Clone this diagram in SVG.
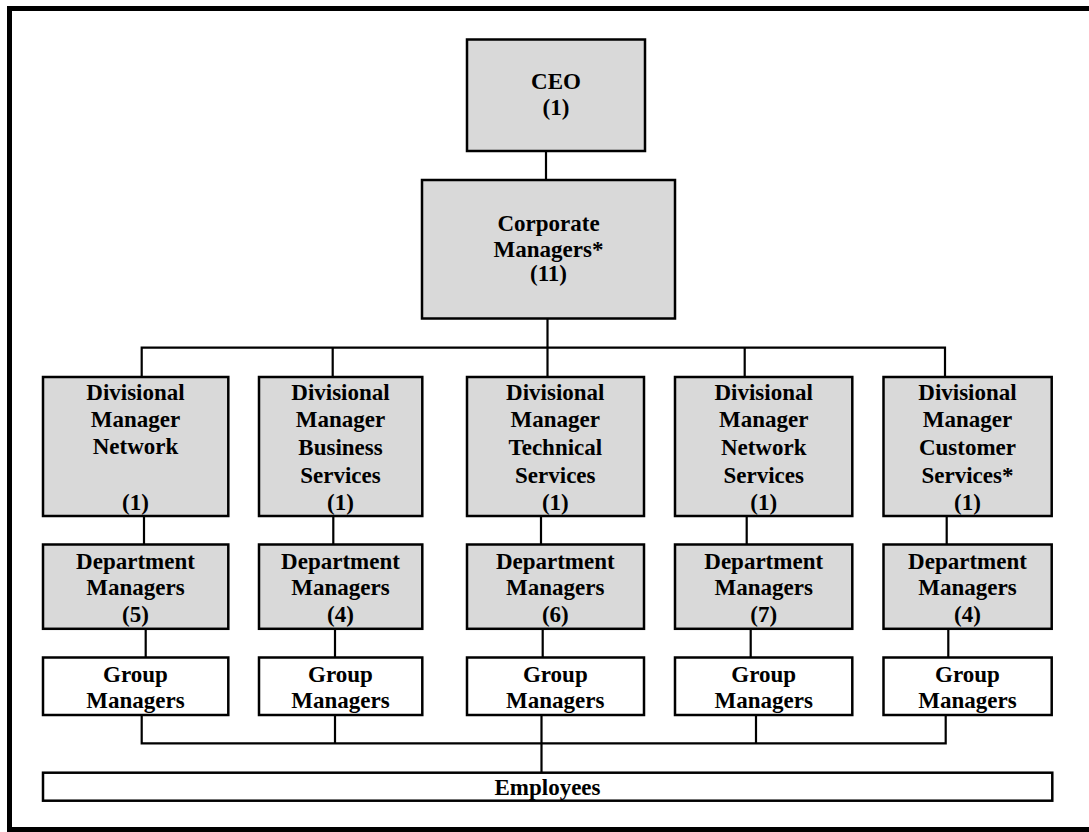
<svg xmlns="http://www.w3.org/2000/svg" width="1089" height="832" viewBox="0 0 1089 832">
<style>
.g{fill:#d9d9d9;stroke:#000;stroke-width:2.5}
.w{fill:#fff;stroke:#000;stroke-width:2.5}
.c{fill:none;stroke:#000;stroke-width:2.2}
text{font-family:"Liberation Serif","Times New Roman",serif;font-weight:bold;font-size:23px;fill:#000;text-anchor:middle}
</style>
<rect x="0" y="0" width="1089" height="832" fill="#fff"/>
<rect x="9.5" y="8.5" width="1090" height="821" fill="none" stroke="#000" stroke-width="5"/>
<g id="connectors" class="c">
<path d="M546 151V180"/>
<path d="M547.5 318V377"/>
<path d="M141.7 377V347.7H945V377"/>
<path d="M332.7 347.7V377M744.7 347.7V377"/>
<path d="M144 516V544M333.3 516V544M541 516V544M746.7 516V544M946.7 516V544"/>
<path d="M145.7 629V657M335 629V657M542.7 629V657M750.7 629V657M948.3 629V657"/>
<path d="M141.7 715V743.3H945.7V715"/>
<path d="M335 715V743.3M756 715V743.3M541.5 715V772.7"/>
</g>
<g id="ceo"><rect class="g" x="467" y="39.5" width="178" height="111.5"/><text x="556" y="89">CEO</text><text x="556" y="115">(1)</text></g>
<g id="corporate"><rect class="g" x="422" y="180" width="253" height="138.5"/><text x="548.5" y="231">Corporate</text><text x="548.5" y="256.7">Managers*</text><text x="548.5" y="281">(11)</text></g>
<g id="div1"><rect class="g" x="43" y="377" width="185.3" height="139"/><text x="135.5" y="400">Divisional</text><text x="135.5" y="427">Manager</text><text x="135.5" y="454">Network</text><text x="135.5" y="510">(1)</text></g>
<g id="div2"><rect class="g" x="259" y="377" width="163.3" height="139"/><text x="340.5" y="399.5">Divisional</text><text x="340.5" y="427.3">Manager</text><text x="340.5" y="455">Business</text><text x="340.5" y="482.7">Services</text><text x="340.5" y="510">(1)</text></g>
<g id="div3"><rect class="g" x="467" y="377" width="177" height="139"/><text x="555.3" y="399.5">Divisional</text><text x="555.3" y="427.3">Manager</text><text x="555.3" y="455">Technical</text><text x="555.3" y="482.7">Services</text><text x="555.3" y="510">(1)</text></g>
<g id="div4"><rect class="g" x="675" y="377" width="177.3" height="139"/><text x="763.7" y="399.5">Divisional</text><text x="763.7" y="427.3">Manager</text><text x="763.7" y="455">Network</text><text x="763.7" y="482.7">Services</text><text x="763.7" y="510">(1)</text></g>
<g id="div5"><rect class="g" x="883.5" y="377" width="168.2" height="139"/><text x="967.5" y="399.5">Divisional</text><text x="967.5" y="427.3">Manager</text><text x="967.5" y="455">Customer</text><text x="967.5" y="482.7">Services*</text><text x="967.5" y="510">(1)</text></g>
<g id="dept1"><rect class="g" x="43" y="544.5" width="185.3" height="84.3"/><text x="135.5" y="568.5">Department</text><text x="135.5" y="595">Managers</text><text x="135.5" y="621.7">(5)</text></g>
<g id="dept2"><rect class="g" x="259" y="544.5" width="163.3" height="84.3"/><text x="340.5" y="568.5">Department</text><text x="340.5" y="595">Managers</text><text x="340.5" y="621.7">(4)</text></g>
<g id="dept3"><rect class="g" x="467" y="544.5" width="177" height="84.3"/><text x="555.3" y="568.5">Department</text><text x="555.3" y="595">Managers</text><text x="555.3" y="621.7">(6)</text></g>
<g id="dept4"><rect class="g" x="675" y="544.5" width="177.3" height="84.3"/><text x="763.7" y="568.5">Department</text><text x="763.7" y="595">Managers</text><text x="763.7" y="621.7">(7)</text></g>
<g id="dept5"><rect class="g" x="883.5" y="544.5" width="168.2" height="84.3"/><text x="967.5" y="568.5">Department</text><text x="967.5" y="595">Managers</text><text x="967.5" y="621.7">(4)</text></g>
<g id="grp1"><rect class="w" x="43" y="657.5" width="185.3" height="57.5"/><text x="135.5" y="681.7">Group</text><text x="135.5" y="708.3">Managers</text></g>
<g id="grp2"><rect class="w" x="259" y="657.5" width="163.3" height="57.5"/><text x="340.5" y="681.7">Group</text><text x="340.5" y="708.3">Managers</text></g>
<g id="grp3"><rect class="w" x="467" y="657.5" width="177" height="57.5"/><text x="555.3" y="681.7">Group</text><text x="555.3" y="708.3">Managers</text></g>
<g id="grp4"><rect class="w" x="675" y="657.5" width="177.3" height="57.5"/><text x="763.7" y="681.7">Group</text><text x="763.7" y="708.3">Managers</text></g>
<g id="grp5"><rect class="w" x="883.5" y="657.5" width="168.2" height="57.5"/><text x="967.5" y="681.7">Group</text><text x="967.5" y="708.3">Managers</text></g>
<g id="employees"><rect class="w" x="43" y="772.7" width="1009.3" height="28"/><text x="547.5" y="795">Employees</text></g>
</svg>
